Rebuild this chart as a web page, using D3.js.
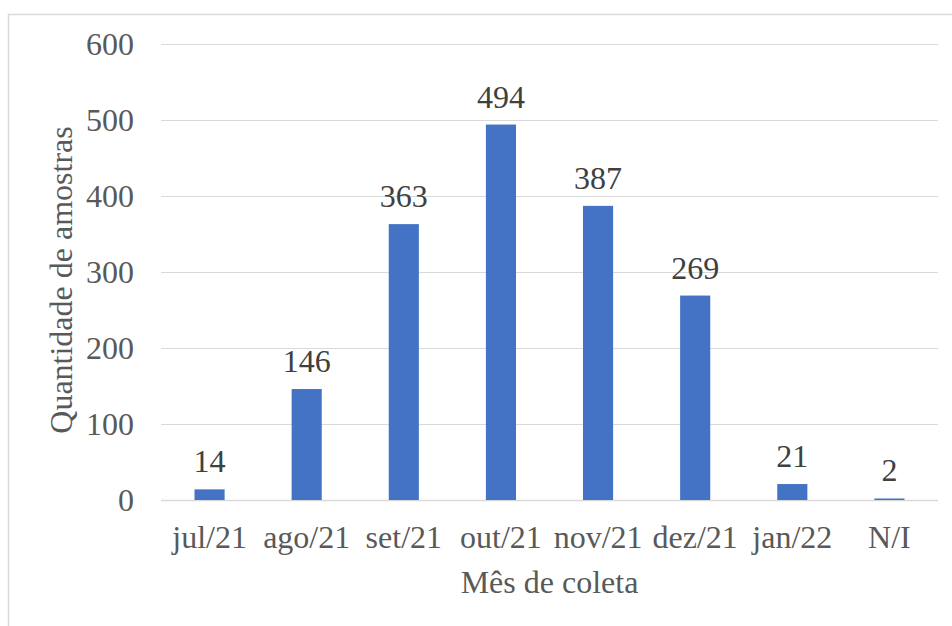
<!DOCTYPE html>
<html>
<head>
<meta charset="utf-8">
<script src="https://cdn.jsdelivr.net/npm/d3@7"></script>
<style>
  html, body { margin: 0; padding: 0; background: #fff; }
  svg { display: block; }
  text { font-family: "Liberation Serif", "Times New Roman", serif; }
</style>
</head>
<body>
<svg id="chart" width="952" height="626"></svg>
<script>
// Amostras por mês de coleta
const categories = ["jul/21", "ago/21", "set/21", "out/21", "nov/21", "dez/21", "jan/22", "N/I"];
const amostras = [14, 146, 363, 494, 387, 269, 21, 2];
const yTicks = [0, 100, 200, 300, 400, 500, 600];
const xTitle = "Mês de coleta";
const yTitle = "Quantidade de amostras";

const W = 952, H = 626;
const plot = { left: 161, right: 938, top: 44, bottom: 500 };
const fontSize = 32;

const svg = d3.select("#chart");

// chart area frame
svg.append("rect")
  .attr("x", 8.5).attr("y", 14.5)
  .attr("width", W + 10).attr("height", H + 10)
  .attr("fill", "#fff").attr("stroke", "#d9d9d9").attr("stroke-width", 1.5);

const x = d3.scaleBand().domain(categories).range([plot.left, plot.right]).paddingInner(0.69).paddingOuter(0.345);
const y = d3.scaleLinear().domain([0, 600]).range([plot.bottom, plot.top]);

// gridlines
svg.append("g").selectAll("line").data(yTicks).join("line")
  .attr("x1", plot.left).attr("x2", plot.right)
  .attr("y1", d => Math.round(y(d)) + 0.5).attr("y2", d => Math.round(y(d)) + 0.5)
  .attr("stroke", "#d9d9d9").attr("stroke-width", d => d === 0 ? 1.5 : 1.2);

// y axis labels
const yAxis = d3.axisLeft(y).tickValues(yTicks).tickSize(0).tickPadding(0);
const gy = svg.append("g").attr("transform", `translate(${plot.left - 27},0)`).call(yAxis);
gy.select(".domain").remove();
gy.selectAll("text")
  .attr("font-family", "Liberation Serif, Times New Roman, serif")
  .attr("font-size", fontSize).attr("fill", "#595959").attr("dy", "0.34em");

// x axis labels
const xAxis = d3.axisBottom(x).tickSize(0).tickPadding(0);
const gx = svg.append("g").attr("transform", `translate(0,${plot.bottom})`).call(xAxis);
gx.select(".domain").remove();
gx.selectAll("text")
  .attr("font-family", "Liberation Serif, Times New Roman, serif")
  .attr("font-size", fontSize).attr("fill", "#595959")
  .attr("dy", null).attr("y", 48);

// bars
svg.append("g").selectAll("rect").data(categories).join("rect")
  .attr("x", d => x(d))
  .attr("width", x.bandwidth())
  .attr("y", (d, i) => y(amostras[i]))
  .attr("height", (d, i) => plot.bottom - y(amostras[i]))
  .attr("fill", "#4472c4");

// value labels
svg.append("g").selectAll("text").data(categories).join("text")
  .attr("x", d => x(d) + x.bandwidth() / 2)
  .attr("y", (d, i) => y(amostras[i]) - 17)
  .attr("text-anchor", "middle")
  .attr("font-size", fontSize).attr("fill", "#404040")
  .text((d, i) => amostras[i]);

// axis titles
svg.append("text")
  .attr("x", (plot.left + plot.right) / 2).attr("y", 593)
  .attr("text-anchor", "middle")
  .attr("font-size", fontSize).attr("fill", "#595959")
  .text(xTitle);

svg.append("text")
  .attr("transform", `translate(72,${(plot.top + plot.bottom) / 2 + 8}) rotate(-90)`)
  .attr("text-anchor", "middle")
  .attr("font-size", fontSize).attr("fill", "#595959")
  .text(yTitle);
</script>
</body>
</html>
